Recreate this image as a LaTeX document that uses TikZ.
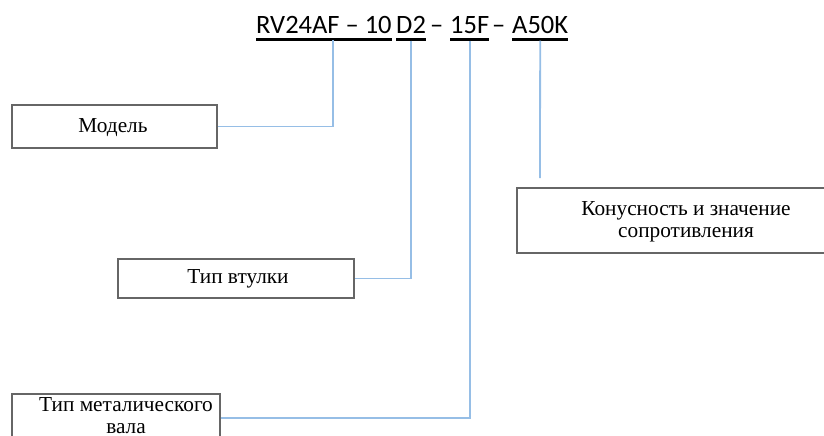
\documentclass[tikz,border=0pt]{standalone}
\usepackage{fontspec}
\setmainfont{Liberation Serif}
\newfontfamily\titlefont{Carlito}
\begin{document}
\begin{tikzpicture}[x=1pt,y=-1pt,
  box/.style={draw=black!60, line width=2.2pt, fill=white, minimum height=#1, inner sep=0pt},
  boxtext/.style={font=\fontsize{21.3}{22}\selectfont, align=center, inner sep=0pt},
  conn/.style={draw={rgb,255:red,150;green,190;blue,230}, line width=1.8pt},
  title/.style={font=\titlefont\fontsize{26.5}{30}\selectfont, inner sep=0pt, anchor=base west},
  uline/.style={line width=2.2pt}]
\useasboundingbox (0,0) rectangle (824,436);
\clip (0,0) rectangle (824,436);
% title parts
\node[title] (p1) at (256,34) {RV24AF – 10};
\node[title] (p2) at (396,34) {D2};
\node[title] (d1) at (430,34) {–};
\node[title] (p3) at (450,34) {15F};
\node[title] (d2) at (492,34) {–};
\node[title] (p4) at (512,34) {A50K};
\foreach \p in {p1,p2,p3,p4}
  \draw[uline] ([yshift=-5.5pt]\p.base west) -- ([yshift=-5.5pt]\p.base east);
\coordinate (c1) at (333,40);
\coordinate (c4e) at (540,178);
% boxes
\node[box=43pt, minimum width=205pt] (model) at (114.5,126.5) {};
\node[boxtext, anchor=base] at (113,132) {Модель};
\node[box=39pt, minimum width=236pt] (vt) at (236,278.5) {};
\node[boxtext, anchor=base] at (238,283) {Тип втулки};
\node[box=48pt, minimum width=208pt] (val) at (116,418) {};
\node[boxtext, anchor=base] (valt) at (126,433) {Тип металического\\вала};
\node[box=65pt, minimum width=338pt] (kon) at (686,220.5) {};
\node[boxtext, anchor=base] (kont) at (686,237) {Конусность и значение\\сопротивления};
% connectors
\draw[conn] (c1) |- (model.east);
\draw[conn] ([yshift=-6.6pt]p2.base) |- (vt.east);
\draw[conn] ([yshift=-6.6pt]p3.base) |- (val.east);
\draw[conn] ([yshift=-6.6pt]p4.base) -- (c4e);
\end{tikzpicture}
\end{document}
